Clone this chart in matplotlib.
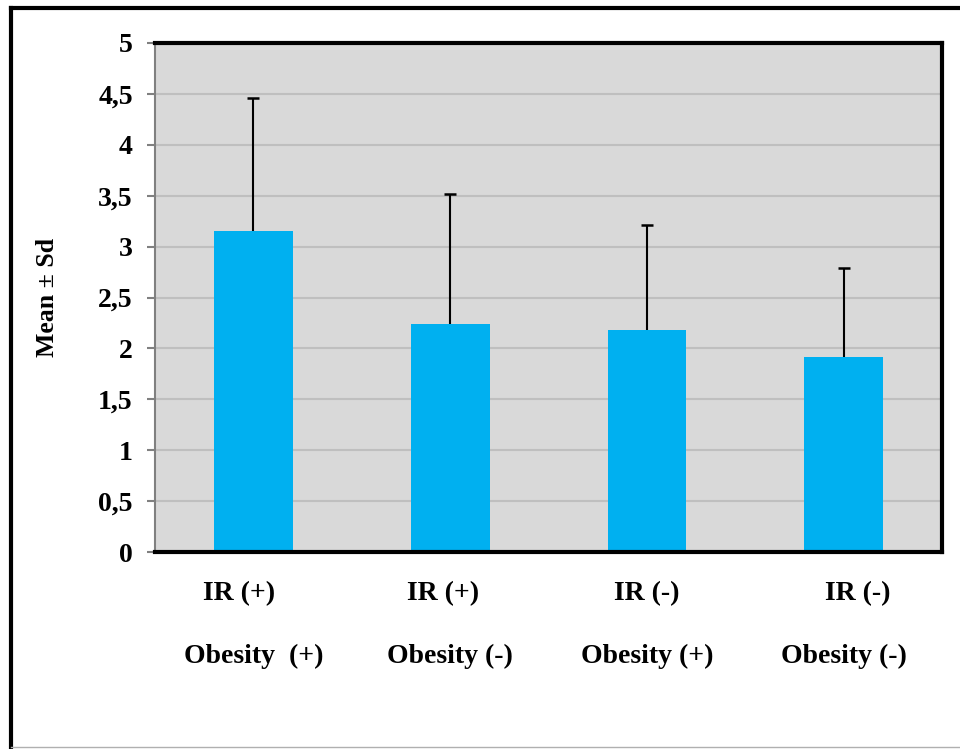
import matplotlib.pyplot as plt
from matplotlib.lines import Line2D

# ==== Data ====
ir_labels = ["IR (+)    ", "IR (+)  ", "IR (-)", "    IR (-)"]
obesity_labels = ["Obesity  (+)", "Obesity (-)", "Obesity (+)", "Obesity (-)"]
means = [3.15, 2.24, 2.18, 1.92]
sds = [1.31, 1.28, 1.03, 0.87]
y_ticks = [0, 0.5, 1, 1.5, 2, 2.5, 3, 3.5, 4, 4.5, 5]
y_tick_labels = ["0", "0,5", "1", "1,5", "2", "2,5", "3", "3,5", "4", "4,5", "5"]

plt.rcParams["font.family"] = ["Liberation Serif", "DejaVu Serif"]
plt.rcParams["font.weight"] = "bold"

fig = plt.figure(figsize=(9.6, 7.49), dpi=100)
ax = fig.add_axes([0.1615, 0.263, 0.8198, 0.6796])
ax.set_facecolor("#d9d9d9")

x = list(range(len(means)))
ax.yaxis.grid(True, color="#bfbfbf", linewidth=1.5)
ax.set_axisbelow(True)
ax.bar(x, means, width=0.40, color="#00b0f0", zorder=2)
_, caps, _ = ax.errorbar(x, means, yerr=[[0] * len(sds), sds], fmt="none",
                         ecolor="black", elinewidth=1.5, capsize=4.3,
                         capthick=1.8, zorder=3)
caps[0].set_visible(False)  # only the upper cap, as in Excel "plus" bars

ax.set_xlim(-0.5, 3.5)
ax.set_ylim(0, 5)
ax.set_yticks(y_ticks)
ax.set_yticklabels(y_tick_labels, fontsize=20, fontweight="bold")
ax.tick_params(axis="y", direction="out", length=6, width=1.5, color="#808080", pad=10)
ax.set_xticks([])

for side in ["top", "right", "bottom"]:
    ax.spines[side].set_color("black")
    ax.spines[side].set_linewidth(3)
ax.spines["left"].set_color("#808080")
ax.spines["left"].set_linewidth(1.5)

trans = ax.get_xaxis_transform()
for xi, l1, l2 in zip(x, ir_labels, obesity_labels):
    ax.text(xi, -0.081, l1, transform=trans, ha="center", va="center",
            fontsize=20, fontweight="bold")
    ax.text(xi, -0.206, l2, transform=trans, ha="center", va="center",
            fontsize=20, fontweight="bold")

ax.set_ylabel("Mean ± Sd", fontsize=18.5, fontweight="bold", labelpad=28)

# ==== Outer frame ====
fig.add_artist(Line2D([0.0115, 0.0115], [0.003, 0.989], color="black", linewidth=3))
fig.add_artist(Line2D([0.0115, 1.0], [0.989, 0.989], color="black", linewidth=3))
fig.add_artist(Line2D([0.0115, 1.0], [0.003, 0.003], color="#b0b0b0", linewidth=1))

fig.savefig("out.png", dpi=100)
